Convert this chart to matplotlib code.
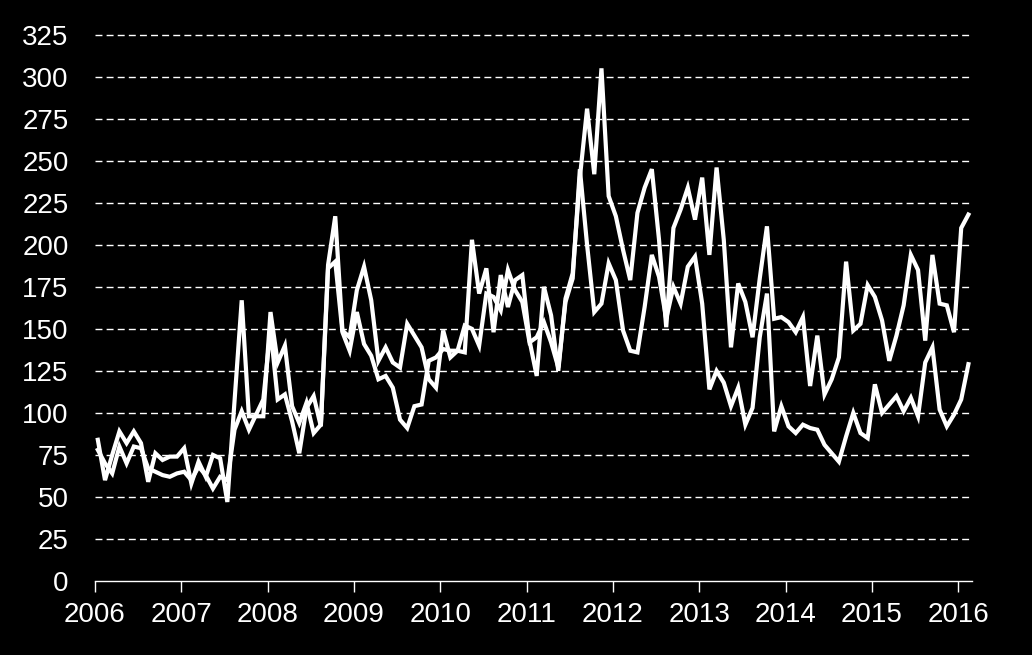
import numpy as np
import matplotlib
matplotlib.use('Agg')
import matplotlib.pyplot as plt

# monthly values, Jan 2006 - Feb 2016
series_1 = [84, 60, 75, 89, 82, 89, 82, 59, 76, 72, 74, 74,
            79, 58, 71, 62, 75, 73, 47, 107, 167, 98, 98, 98,
            160, 130, 140, 104, 94, 106, 88, 93, 188, 217, 149, 145,
            173, 187, 167, 131, 139, 130, 127, 153, 146, 139, 120, 115,
            149, 133, 137, 136, 203, 171, 186, 148, 182, 163, 179, 182,
            143, 122, 175, 158, 125, 168, 183, 240, 281, 242, 305, 229,
            217, 197, 179, 219, 234, 245, 203, 151, 210, 221, 234, 215,
            240, 194, 246, 203, 139, 177, 166, 145, 180, 211, 156, 157,
            154, 148, 157, 116, 146, 111, 120, 133, 190, 149, 153, 176,
            169, 155, 131, 146, 164, 194, 185, 143, 194, 165, 164, 148,
            210, 218]

series_2 = [78, 70, 64, 80, 70, 80, 79, 67, 65, 63, 62, 64,
            65, 60, 68, 63, 55, 62, 60, 90, 101, 90, 99, 108,
            150, 108, 111, 95, 76, 103, 110, 92, 186, 190, 148, 137,
            160, 141, 134, 120, 122, 115, 96, 91, 104, 105, 131, 133,
            138, 137, 137, 152, 150, 140, 171, 169, 161, 185, 173, 166,
            142, 145, 154, 142, 127, 166, 180, 245, 200, 160, 165, 189,
            179, 149, 137, 136, 163, 194, 181, 156, 175, 165, 187, 193,
            165, 114, 125, 118, 104, 115, 93, 103, 145, 171, 89, 104,
            92, 88, 93, 91, 90, 81, 76, 71, 86, 100, 88, 85,
            117, 100, 105, 110, 101, 109, 98, 130, 139, 102, 92, 99,
            108, 129]

years = list(range(2006, 2017))
y_ticks = list(range(0, 326, 25))

# points sit a little after the start of each month
x = 2006 + (np.arange(len(series_1)) + 0.4) / 12.0

plt.rcParams['font.family'] = ['Liberation Sans', 'DejaVu Sans']

fig = plt.figure(figsize=(10.32, 6.55), dpi=100, facecolor='black')
ax = fig.add_axes([0.092, 0.113, 0.850, 0.834], facecolor='black')

ax.plot(x, series_2, color='white', lw=3.0, solid_joinstyle='miter')
ax.plot(x, series_1, color='white', lw=3.0, solid_joinstyle='miter')

ax.set_xlim(2006, 2016.16)
ax.set_ylim(0, 325)
ax.set_xticks(years)
ax.set_xticklabels([str(y) for y in years])
ax.set_yticks(y_ticks)

for y in y_ticks[1:]:
    ax.axhline(y, color='white', lw=1, ls=(0, (5, 3)), zorder=0, clip_on=False)

for s in ['left', 'right', 'top']:
    ax.spines[s].set_visible(False)
ax.spines['bottom'].set_color('white')
ax.spines['bottom'].set_linewidth(1)

ax.tick_params(axis='x', colors='white', labelsize=20, length=8, width=1,
               direction='out', pad=7)
ax.tick_params(axis='y', colors='white', labelsize=20, length=0, pad=19)

plt.savefig('out.png', dpi=100, facecolor='black')
